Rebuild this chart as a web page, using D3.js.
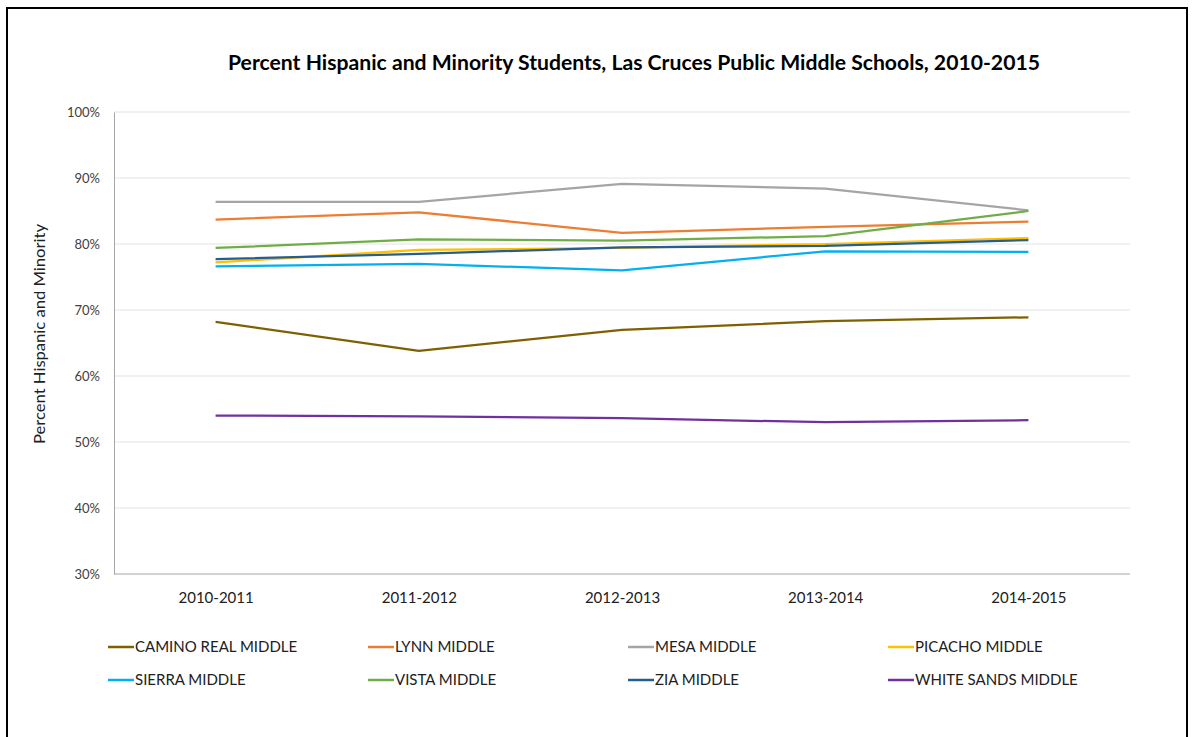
<!DOCTYPE html>
<html>
<head>
<meta charset="utf-8">
<script src="https://cdn.jsdelivr.net/npm/d3@7"></script>
<style>
  body { margin: 0; background: #fff; }
  svg { display: block; }
  text { font-family: Lato, "Open Sans", sans-serif; }
</style>
</head>
<body>
<svg id="chart" width="1193" height="737"></svg>
<script>
const years = ["2010-2011", "2011-2012", "2012-2013", "2013-2014", "2014-2015"];
const schools = ["CAMINO REAL MIDDLE", "LYNN MIDDLE", "MESA MIDDLE", "PICACHO MIDDLE",
                 "SIERRA MIDDLE", "VISTA MIDDLE", "ZIA MIDDLE", "WHITE SANDS MIDDLE"];
const caminoReal = [68.2, 63.8, 67.0, 68.3, 68.9];
const lynn       = [83.7, 84.8, 81.7, 82.6, 83.4];
const mesa       = [86.4, 86.4, 89.1, 88.4, 85.1];
const picacho    = [77.2, 79.1, 79.4, 80.0, 80.9];
const sierra     = [76.6, 77.0, 76.0, 78.9, 78.8];
const vista      = [79.4, 80.7, 80.5, 81.2, 85.0];
const zia        = [77.7, 78.5, 79.5, 79.7, 80.6];
const whiteSands = [54.0, 53.9, 53.6, 53.0, 53.3];
const seriesValues = [caminoReal, lynn, mesa, picacho, sierra, vista, zia, whiteSands];
const colors = ["#7F6000", "#ED7D31", "#A5A5A5", "#FFC000", "#00B0F0", "#70AD47", "#255E91", "#7030A0"];
const yTicks = [30, 40, 50, 60, 70, 80, 90, 100];

const svg = d3.select("#chart");
// outer frame
svg.append("rect").attr("x", 7).attr("y", 8).attr("width", 1180).attr("height", 740)
  .attr("fill", "none").attr("stroke", "#000").attr("stroke-width", 2);

const m = {left: 114, right: 1130, top: 112, bottom: 574};
const x = d3.scalePoint().domain(years).range([m.left, m.right]).padding(0.5);
const y = d3.scaleLinear().domain([30, 100]).range([m.bottom, m.top]);

// gridlines
svg.append("g").selectAll("line").data(yTicks.slice(1)).join("line")
  .attr("x1", m.left).attr("x2", m.right)
  .attr("y1", d => y(d)).attr("y2", d => y(d))
  .attr("stroke", "#E3E3E3").attr("stroke-width", 1);

// y axis
const yAxis = svg.append("g").attr("transform", `translate(${m.left},0)`)
  .call(d3.axisLeft(y).tickValues(yTicks).tickFormat(d => d + "%").tickSize(0).tickPadding(14));
yAxis.select(".domain").attr("stroke", "#A6A6A6");
yAxis.selectAll("text").attr("font-size", 13).attr("fill", "#404040");

// x axis
const xAxis = svg.append("g").attr("transform", `translate(0,${m.bottom})`)
  .call(d3.axisBottom(x).tickSize(0).tickPadding(18));
xAxis.select(".domain").attr("stroke", "#A6A6A6").attr("d", `M${m.left},0H${m.right}`);
xAxis.selectAll("text").attr("font-size", 15).attr("fill", "#202020");

// lines
const line = d3.line().x((d, i) => x(years[i])).y(d => y(d));
svg.append("g").selectAll("path").data(seriesValues).join("path")
  .attr("d", d => line(d))
  .attr("fill", "none")
  .attr("stroke", (d, i) => colors[i])
  .attr("stroke-width", 2.25)
  .attr("stroke-linejoin", "round");

// title
svg.append("text").attr("x", 634).attr("y", 70).attr("text-anchor", "middle")
  .attr("font-size", 20).attr("font-weight", "bold").attr("fill", "#000")
  .attr("textLength", 812).attr("lengthAdjust", "spacingAndGlyphs")
  .text("Percent Hispanic and Minority Students, Las Cruces Public Middle Schools, 2010-2015");

// y title
svg.append("text").attr("transform", `translate(45,334) rotate(-90)`)
  .attr("text-anchor", "middle").attr("font-size", 16).attr("fill", "#202020")
  .attr("textLength", 220).attr("lengthAdjust", "spacingAndGlyphs")
  .text("Percent Hispanic and Minority");

// legend
const lg = svg.append("g").selectAll("g").data(schools).join("g")
  .attr("transform", (d, i) => `translate(${108 + (i % 4) * 260},${647 + Math.floor(i / 4) * 33})`);
lg.append("line").attr("x1", 0).attr("x2", 26).attr("y1", 0).attr("y2", 0)
  .attr("stroke", (d, i) => colors[i]).attr("stroke-width", 2.5);
lg.append("text").attr("x", 27).attr("y", 0).attr("dy", "0.36em")
  .attr("font-size", 15).attr("fill", "#202020").text(d => d);
</script>
</body>
</html>
